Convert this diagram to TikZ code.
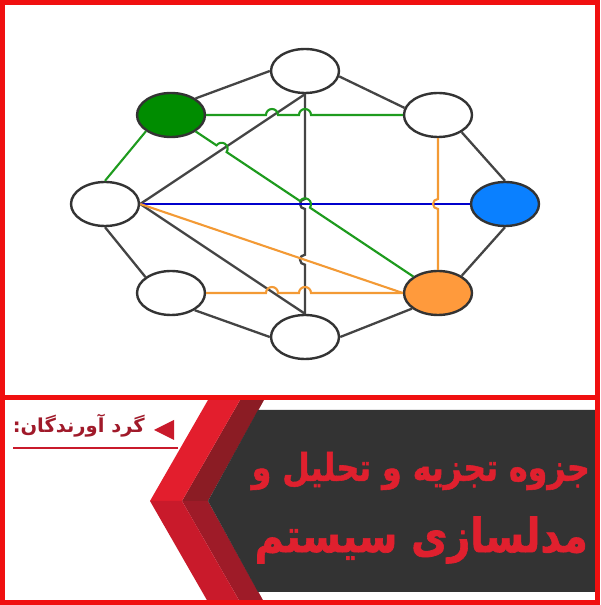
\documentclass[tikz,border=0pt]{standalone}
\usepackage{fontspec}
\usepackage{graphicx}
\usetikzlibrary{shapes.geometric}
\newfontfamily\arabicfont[Script=Arabic]{DejaVu Sans}
\newfontfamily\arabicheavy[Script=Arabic,FakeBold=1.5]{DejaVu Sans Bold}
\TeXXeTstate=1
\definecolor{bordred}{HTML}{F01010}
\definecolor{panelgray}{HTML}{333333}
\definecolor{brightA}{HTML}{E31E2D}
\definecolor{brightB}{HTML}{C91A2B}
\definecolor{maroonA}{HTML}{8B1C24}
\definecolor{maroonB}{HTML}{9E1B28}
\definecolor{titlered}{HTML}{E0202E}
\definecolor{smallred}{HTML}{A01A2A}
\definecolor{nodeborder}{HTML}{333333}
\definecolor{edgegray}{HTML}{444444}
\definecolor{greenfill}{HTML}{008C00}
\definecolor{greenline}{HTML}{1E9B1E}
\definecolor{bluefill}{HTML}{0A80FF}
\definecolor{blueline}{HTML}{0000CC}
\definecolor{orangefill}{HTML}{FF9A3C}
\definecolor{orangeline}{HTML}{F39A35}
\begin{document}
\begin{tikzpicture}[x=1pt,y=1pt,
  nd/.style={ellipse, draw=nodeborder, line width=2.4pt, minimum width=68pt, minimum height=44pt, inner sep=0pt, fill=white},
  gedge/.style={draw=edgegray, line width=2.3pt},
  grn/.style={draw=greenline, line width=2.1pt},
  blu/.style={draw=blueline, line width=2.1pt},
  org/.style={draw=orangeline, line width=2.1pt}]
\useasboundingbox (0,0) rectangle (600,605);
\fill[white] (0,0) rectangle (600,605);
% bottom panel
\fill[maroonA] (240,205) -- (264,205) -- (208,104) -- (182,104) -- cycle;
\fill[maroonB] (182,104) -- (208,104) -- (264,3) -- (240,3) -- cycle;
\fill[brightA] (208,205) -- (240,205) -- (182,104) -- (150,104) -- cycle;
\fill[brightB] (150,104) -- (182,104) -- (240,3) -- (208,3) -- cycle;
\fill[panelgray] (258,195) -- (597,195) -- (597,13) -- (258,13) -- (208,104) -- cycle;
\node[anchor=east, text=titlered, inner sep=0pt] (t1) at (590,134) {\resizebox*{338pt}{38pt}{\arabicheavy\beginR جزوه تجزیه و تحلیل و\endR}};
\node[anchor=east, text=titlered, inner sep=0pt] (t2) at (588,65) {\resizebox*{333pt}{47pt}{\arabicheavy\beginR مدلسازی سیستم\endR}};
\node[anchor=east, text=smallred, inner sep=0pt] (sub) at (145,179) {\resizebox*{132pt}{23pt}{\arabicfont\bfseries\beginR گرد آورندگان:\endR}};
\fill[brightB] (154,175) -- (174,185) -- (174,165) -- cycle;
\draw[brightB, line width=1.5pt] (13,157) -- (178,157);
% frame
\draw[bordred, line width=5pt] (2.5,2.5) rectangle (597.5,602.5);
\fill[bordred] (0,205) rectangle (600,210);
% nodes
\node[nd] (top) at (305,534) {};
\node[nd, fill=greenfill] (TL) at (171,490) {};
\node[nd] (TR) at (438,490) {};
\node[nd] (L) at (105,401) {};
\node[nd, fill=bluefill] (R) at (505,401) {};
\node[nd] (BL) at (171,312) {};
\node[nd, fill=orangefill] (BR) at (438,312) {};
\node[nd] (B) at (305,268) {};
% octagon edges
\draw[gedge] (top.west) -- (TL.34);
\draw[gedge] (top.-9) -- (TR.168);
\draw[gedge] (TR.-36) -- (R.north);
\draw[gedge] (R.south) -- (BR.36);
\draw[gedge] (BR.211) -- (B.east);
\draw[gedge] (B.west) -- (BL.-36);
\draw[gedge] (BL.148) -- (L.south);
\draw[grn] (L.north) -- (TL.213);
% inner edges
\draw[gedge] (L.east) -- (top.south);
\draw[gedge] (L.east) -- (B.north);
\draw[gedge] (top.south) -- (305,406) arc[start angle=90, delta angle=180, radius=5] -- (305,350.25) arc[start angle=90, delta angle=180, radius=5] -- (B.north);
\draw[blu] (L.east) -- (R.west);
\draw[org] (L.east) -- (BR.west);
\draw[grn] (TL.east) -- (266,490) arc[start angle=180, end angle=0, radius=6] -- (299,490) arc[start angle=180, end angle=0, radius=6] -- (TR.west);
\draw[grn] (TL) -- (216.6,459.6) arc[start angle=146.31, delta angle=-180, radius=6] -- (300,404) arc[start angle=146.31, delta angle=-180, radius=6] -- (BR);
\draw[org] (BL.east) -- (266,312) arc[start angle=180, end angle=0, radius=6] -- (299,312) arc[start angle=180, end angle=0, radius=6] -- (BR.west);
\draw[org] (TR.south) -- (438,406) arc[start angle=90, delta angle=180, radius=5] -- (BR.north);
\end{tikzpicture}
\end{document}
